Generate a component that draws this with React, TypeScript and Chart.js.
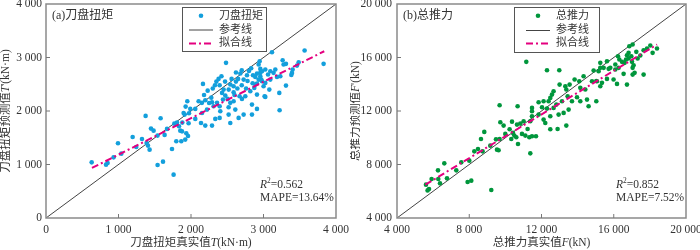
import React, { useEffect, useRef } from "react";
import { Chart, registerables } from "chart.js";
Chart.register(...registerables);

// ---------------- data ----------------
const torqueTicks = [0, 1000, 2000, 3000, 4000];
const thrustTicks = [4000, 8000, 12000, 16000, 20000];

const torqueActual = [
  630, 828, 850, 932, 993, 1039, 1195, 1245, 1324, 1374, 1388, 1406, 1429, 1448, 1484, 1539, 1539, 1581, 1614, 1636,
  1669, 1738, 1760, 1770, 1797, 1807, 1834, 1852, 1866, 1880, 1912, 1926, 1935, 1949, 1959, 1967, 1972, 2483, 2165, 2395,
  2542, 2588, 2726, 2772, 2855, 2956, 2450, 2428, 2473, 2505, 2588, 2670, 2703, 2749, 2818, 2873, 2910, 2970, 3001, 2105,
  2151, 2197, 2290, 2312, 2359, 2395, 2441, 2542, 2588, 2059, 1990, 1898, 2152, 2221, 2404, 2519, 2611, 2841, 2910, 3015,
  2059, 2138, 2197, 2290, 2335, 2395, 2519, 2657, 2726, 2841, 2542, 1876, 1921, 3567, 3829, 3117, 3264, 3277, 3310, 3485,
  3462, 3402, 3393, 3384, 3310, 3218, 3080, 3025, 2910, 3222, 3163, 3139, 3094, 3062, 3025, 2979, 2956, 2933, 2979, 3025,
  3094, 3186, 3232, 2910, 2956, 2933, 2887, 2887, 2947, 2300, 2350, 2380, 2420, 2330, 2620, 2650, 2680, 2700, 2620, 2560,
  2800, 2830, 2780, 2850, 2600, 2640, 2700, 2760, 2180, 2230, 2250, 2470, 2520, 2280,
];
const torquePredicted = [
  1040, 997, 1029, 1134, 1396, 1203, 1515, 1328, 1478, 1908, 1403, 1353, 1278, 1671, 1633, 992, 1540, 1864, 1053, 1553,
  1665, 1291, 810, 1764, 1434, 1783, 1714, 1633, 1434, 1783, 1933, 2082, 1583, 2182, 1534, 1770, 1957, 2900, 2507, 2481,
  2494, 2462, 2587, 2668, 2668, 2713, 2400, 2338, 2288, 2226, 2350, 2275, 2226, 2275, 2369, 2432, 2513, 2587, 2462, 2182,
  2152, 2200, 2163, 2088, 2152, 2088, 2213, 2152, 2182, 2039, 2039, 1964, 1964, 2026, 1995, 2069, 2026, 2120, 2039, 2275,
  1852, 1777, 1727, 1727, 1852, 1871, 1933, 1871, 1933, 1933, 1777, 1620, 1465, 3130, 2881, 3098, 2949, 2868, 2881, 2911,
  2849, 2775, 2712, 2675, 2475, 2338, 2400, 2264, 2307, 2013, 2775, 2713, 2743, 2681, 2775, 2743, 2649, 2587, 2556, 2525,
  2587, 2637, 2649, 2699, 2787, 2868, 2637, 2494, 2930, 2420, 2550, 2600, 2650, 2480, 2550, 2600, 2700, 2760, 2720, 2600,
  2750, 2800, 2560, 2520, 2300, 2420, 2480, 2420, 2300, 2380, 2150, 2550, 2400, 2250,
];
const torqueRefX = [0, 4000];
const torqueRefY = [0, 4000];
const torqueFitX = [634, 3838];
const torqueFitY = [935, 3117];

const thrustActual = [
  5605, 5694, 5772, 5916, 6270, 6287, 6381, 6619, 6768, 7283, 7560, 7909, 8003, 8113, 8280, 8484, 8650, 8833, 8740, 9165,
  9221, 9481, 9536, 9625, 9681, 9902, 9996, 10235, 10328, 10494, 10605, 10699, 10920, 11103, 11231, 11325, 11380, 11474, 11695, 12487,
  12891, 13373, 9681, 9720, 10677, 10367, 10644, 10827, 11158, 12304, 12985, 11474, 11474, 11840, 12116, 12393, 12487, 12581, 12669, 13002,
  13318, 13373, 13556, 13833, 14093, 14331, 14148, 14425, 14796, 14885, 15034, 12028, 12304, 12669, 12820, 13135, 13447, 13688, 13966, 14148,
  14519, 14608, 13502, 13225, 12947, 12487, 12116, 12210, 11840, 11474, 11380, 11010, 10420, 15255, 17045, 16861, 18025, 17842, 17653, 18394,
  18152, 17249, 17470, 17322, 16822, 16732, 16972, 16822, 16679, 16601, 17010, 17099, 17045, 17155, 17045, 17653, 16546, 16732, 16180, 15991,
  15625, 15349, 15255, 16235, 16309, 16456, 16087, 15810, 15717, 16087, 16271, 15255, 15440, 15625, 15163, 15072, 15034,
];
const thrustPredicted = [
  6492, 6065, 6170, 6919, 7562, 6919, 6590, 8086, 6965, 7562, 8161, 6694, 8288, 6792, 8984, 9164, 9912, 10436, 8984, 9411,
  6095, 9882, 9112, 9060, 9912, 10907, 10286, 10631, 9912, 10159, 10032, 9538, 10286, 10159, 10656, 10032, 8834, 10107, 10107, 10631,
  10656, 10907, 12427, 11154, 12352, 11205, 10982, 11057, 15674, 15046, 15046, 12232, 11978, 12651, 12726, 12726, 12980, 13227, 13474, 13975,
  13848, 13602, 13975, 14350, 14222, 14597, 13729, 13602, 14222, 15023, 14248, 12277, 12180, 12232, 12479, 12726, 13101, 12726, 13027, 12726,
  12853, 12352, 12104, 11858, 11731, 11606, 11356, 11107, 11731, 11606, 11229, 11229, 10361, 15225, 16969, 16844, 16894, 16669, 16545, 16669,
  16348, 16423, 16146, 15922, 16348, 16170, 16094, 15922, 15847, 15600, 15675, 15421, 15225, 14851, 14723, 14723, 14776, 13975, 14028, 14350,
  14400, 14103, 13848, 16094, 15847, 15675, 15472, 15225, 15150, 15098, 15225, 15600, 15225, 15719, 14972, 14222, 12726,
];
const thrustRefX = [4000, 20000];
const thrustRefY = [4000, 20000];
const thrustFitX = [5570, 18400];
const thrustFitY = [6490, 16970];

// ---------------- styling ----------------
const FONT = '"Liberation Serif", "Noto Sans CJK SC", serif';
const TEXT = "#333333";
const FIT_COLOR = "#e4007f";
const REF_COLOR = "#444444";
const DASH = [7, 3, 2, 3];

type Run = { t: string; i?: boolean; sup?: boolean };

const fmt = (v: number) => String(v).replace(/\B(?=(\d{3})+(?!\d))/g, " ");

function fontFor(r: Run, size: number) {
  const s = r.sup ? size * 0.65 : size;
  return `${r.i ? "italic " : ""}${s}px ${FONT}`;
}

function drawRuns(ctx: CanvasRenderingContext2D, runs: Run[], x: number, y: number, size: number, align: "left" | "center", rotate = false) {
  ctx.save();
  ctx.translate(x, y);
  if (rotate) ctx.rotate(-Math.PI / 2);
  let total = 0;
  const widths = runs.map((r) => {
    ctx.font = fontFor(r, size);
    const w = ctx.measureText(r.t).width;
    total += w;
    return w;
  });
  let cx = align === "center" ? -total / 2 : 0;
  ctx.textAlign = "left";
  ctx.textBaseline = "middle";
  ctx.fillStyle = TEXT;
  runs.forEach((r, k) => {
    ctx.font = fontFor(r, size);
    ctx.fillText(r.t, cx, r.sup ? -size * 0.35 : 0);
    cx += widths[k];
  });
  ctx.restore();
}

type PanelCfg = {
  color: string;
  ticks: number[];
  actual: number[];
  predicted: number[];
  refX: number[];
  refY: number[];
  fitX: number[];
  fitY: number[];
  yAxisWidth: number;
  yTickPad: number;
  names: string[];
  panelLabel: Run[];
  xTitle: Run[];
  yTitle: Run[];
  r2: string;
  mape: string;
  legend: { x: number; y: number; w: number; h: number; lineX0: number; lineX1: number; markerX: number; textX: number; rows: number[] };
  annotX: number;
};

function makePlugin(cfg: PanelCfg) {
  return {
    id: "panelDecor",
    afterDraw(chart: any) {
      const { ctx, chartArea: a, scales } = chart;
      ctx.save();
      // frame
      ctx.strokeStyle = "#8a8a8a";
      ctx.lineWidth = 1.5;
      ctx.strokeRect(a.left, a.top, a.right - a.left, a.bottom - a.top);
      // inward ticks
      ctx.beginPath();
      ctx.lineWidth = 1;
      ctx.strokeStyle = "#777";
      cfg.ticks.forEach((v) => {
        const px = scales.x.getPixelForValue(v);
        const py = scales.y.getPixelForValue(v);
        if (px > a.left + 1 && px < a.right - 1) {
          ctx.moveTo(px, a.bottom);
          ctx.lineTo(px, a.bottom - 4);
        }
        if (py > a.top + 1 && py < a.bottom - 1) {
          ctx.moveTo(a.left, py);
          ctx.lineTo(a.left + 4, py);
        }
      });
      ctx.stroke();

      // legend
      const L = cfg.legend;
      ctx.fillStyle = "#fff";
      ctx.fillRect(L.x, L.y, L.w, L.h);
      ctx.strokeStyle = "#555";
      ctx.lineWidth = 1;
      ctx.strokeRect(L.x + 0.5, L.y + 0.5, L.w, L.h);
      ctx.fillStyle = cfg.color;
      ctx.beginPath();
      ctx.arc(L.markerX, L.rows[0], 2.3, 0, Math.PI * 2);
      ctx.fill();
      ctx.strokeStyle = REF_COLOR;
      ctx.lineWidth = 1;
      ctx.beginPath();
      ctx.moveTo(L.lineX0, L.rows[1]);
      ctx.lineTo(L.lineX1, L.rows[1]);
      ctx.stroke();
      ctx.strokeStyle = FIT_COLOR;
      ctx.lineWidth = 2;
      ctx.setLineDash(DASH);
      ctx.beginPath();
      ctx.moveTo(L.lineX0, L.rows[2]);
      ctx.lineTo(L.lineX1, L.rows[2]);
      ctx.stroke();
      ctx.setLineDash([]);
      cfg.names.forEach((n, k) => drawRuns(ctx, [{ t: n }], L.textX, L.rows[k], 11, "left"));

      // panel label
      drawRuns(ctx, cfg.panelLabel, a.left + 6, a.top + 11.5, 12, "left");
      // annotations
      drawRuns(ctx, [{ t: "R", i: true }, { t: "2", sup: true }, { t: "=" + cfg.r2 }], cfg.annotX, 185, 11.5, "left");
      drawRuns(ctx, [{ t: "MAPE=" + cfg.mape }], cfg.annotX, 197.5, 11.5, "left");
      // axis titles
      drawRuns(ctx, cfg.xTitle, (a.left + a.right) / 2, 243, 11.5, "center");
      drawRuns(ctx, cfg.yTitle, 6, (a.top + a.bottom) / 2, 11.5, "center", true);
      ctx.restore();
    },
  };
}

function Panel({ cfg, left }: { cfg: PanelCfg; left: number }) {
  const ref = useRef<HTMLCanvasElement | null>(null);
  useEffect(() => {
    if (!ref.current) return;
    const pts = cfg.actual.map((x, k) => ({ x, y: cfg.predicted[k] }));
    const refPts = cfg.refX.map((x, k) => ({ x, y: cfg.refY[k] }));
    const fitPts = cfg.fitX.map((x, k) => ({ x, y: cfg.fitY[k] }));
    const min = cfg.ticks[0];
    const max = cfg.ticks[cfg.ticks.length - 1];
    const step = cfg.ticks[1] - cfg.ticks[0];
    const tickFont = { family: FONT, size: 11.5 };
    const chart = new Chart(ref.current, {
      type: "scatter",
      data: {
        datasets: [
          { data: fitPts, showLine: true, borderColor: FIT_COLOR, borderWidth: 2, borderDash: DASH, pointRadius: 0, fill: false } as any,
          { data: pts, backgroundColor: cfg.color, borderWidth: 0, pointRadius: 2.3 } as any,
          { data: refPts, showLine: true, borderColor: REF_COLOR, borderWidth: 1, pointRadius: 0, fill: false } as any,
        ],
      },
      options: {
        animation: false,
        responsive: false,
        maintainAspectRatio: false,
        events: [],
        layout: { padding: { top: 4, right: 14, left: 0, bottom: 0 } },
        plugins: { legend: { display: false }, tooltip: { enabled: false } },
        scales: {
          x: {
            type: "linear",
            min,
            max,
            grid: { display: false, drawTicks: false },
            border: { display: false },
            ticks: { stepSize: step, padding: 5, color: TEXT, font: tickFont, autoSkip: false, maxRotation: 0, callback: (v: any) => fmt(Number(v)) },
            afterFit: (s: any) => {
              s.height = 32;
              s.paddingLeft = 0;
              s.paddingRight = 0;
            },
          },
          y: {
            type: "linear",
            min,
            max,
            grid: { display: false, drawTicks: false },
            border: { display: false },
            ticks: { stepSize: step, padding: cfg.yTickPad, color: TEXT, font: tickFont, autoSkip: false, callback: (v: any) => fmt(Number(v)) },
            afterFit: (s: any) => {
              s.width = cfg.yAxisWidth;
              s.paddingTop = 0;
              s.paddingBottom = 0;
            },
          },
        },
      } as any,
      plugins: [makePlugin(cfg)],
    });
    return () => chart.destroy();
  }, [cfg]);
  return <canvas ref={ref} width={350} height={250} style={{ position: "absolute", left, top: 0, width: 350, height: 250 }} />;
}

const torqueCfg: PanelCfg = {
  color: "#139fdc",
  ticks: torqueTicks,
  actual: torqueActual,
  predicted: torquePredicted,
  refX: torqueRefX,
  refY: torqueRefY,
  fitX: torqueFitX,
  fitY: torqueFitY,
  yAxisWidth: 46,
  yTickPad: 4,
  names: ["刀盘扭矩", "参考线", "拟合线"],
  panelLabel: [{ t: "(a)刀盘扭矩" }],
  xTitle: [{ t: "刀盘扭矩真实值" }, { t: "T", i: true }, { t: "(kN·m)" }],
  yTitle: [{ t: "刀盘扭矩预测值" }, { t: "T", i: true }, { t: "'(kN·m)" }],
  r2: "0.562",
  mape: "13.64%",
  legend: { x: 182, y: 7, w: 84, h: 44, lineX0: 189, lineX1: 213, markerX: 201, textX: 219, rows: [15.7, 30, 43.5] },
  annotX: 260,
};

const thrustCfg: PanelCfg = {
  color: "#00963c",
  ticks: thrustTicks,
  actual: thrustActual,
  predicted: thrustPredicted,
  refX: thrustRefX,
  refY: thrustRefY,
  fitX: thrustFitX,
  fitY: thrustFitY,
  yAxisWidth: 47,
  yTickPad: 5,
  names: ["总推力", "参考线", "拟合线"],
  panelLabel: [{ t: "(b)总推力" }],
  xTitle: [{ t: "总推力真实值" }, { t: "F", i: true }, { t: "(kN)" }],
  yTitle: [{ t: "总推力预测值" }, { t: "F", i: true }, { t: "'(kN)" }],
  r2: "0.852",
  mape: "7.52%",
  legend: { x: 164, y: 7, w: 85, h: 45, lineX0: 176, lineX1: 200, markerX: 188, textX: 206, rows: [15.7, 30.5, 43.5] },
  annotX: 266,
};

export default function App() {
  return (
    <div style={{ position: "fixed", left: 0, top: 0, width: 700, height: 250, background: "#fff", overflow: "hidden" }}>
      <Panel cfg={torqueCfg} left={0} />
      <Panel cfg={thrustCfg} left={350} />
    </div>
  );
}
